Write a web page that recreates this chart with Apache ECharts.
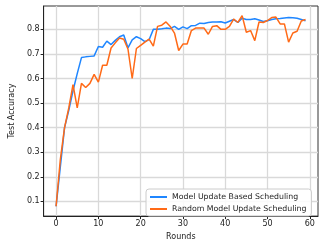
<!DOCTYPE html>
<html><head><meta charset="utf-8">
<script src="https://cdn.jsdelivr.net/npm/echarts@6/dist/echarts.min.js"></script>
<style>html,body{margin:0;padding:0;background:#fff}#c{width:327px;height:246px}</style>
</head><body><div id="c"></div>
<script>
const rounds = Array.from({length: 60}, (_, i) => i);
const modelUpdateBased = [0.08,0.24,0.40,0.47,0.55,0.62,0.685,0.688,0.69,0.692,
  0.73,0.727,0.752,0.738,0.755,0.77,0.777,0.725,0.757,0.770,
  0.762,0.750,0.758,0.800,0.800,0.802,0.805,0.803,0.812,0.800,
  0.810,0.803,0.815,0.816,0.825,0.824,0.828,0.830,0.830,0.831,
  0.826,0.833,0.840,0.828,0.845,0.840,0.840,0.843,0.838,0.832,
  0.835,0.840,0.843,0.844,0.846,0.848,0.847,0.845,0.840,0.835];
const randomModelUpdate = [0.08,0.27,0.40,0.48,0.575,0.48,0.58,0.563,0.58,0.617,
  0.585,0.654,0.654,0.724,0.745,0.765,0.76,0.72,0.60,0.722,
  0.735,0.748,0.760,0.732,0.812,0.817,0.830,0.812,0.785,0.714,
  0.740,0.740,0.795,0.805,0.805,0.805,0.780,0.812,0.815,0.800,
  0.800,0.812,0.842,0.828,0.856,0.788,0.795,0.754,0.830,0.828,
  0.836,0.848,0.850,0.822,0.822,0.748,0.785,0.792,0.834,0.840];
const xTicks = [0,10,20,30,40,50,60];
const yTicks = [0.1,0.2,0.3,0.4,0.5,0.6,0.7,0.8];
const seriesNames = ['Model Update Based Scheduling','Random Model Update Scheduling'];

const font = 'DejaVu Sans';
const chart = echarts.init(document.getElementById('c'));
chart.setOption({
  animation: false,
  grid: {left: 32, right: 9, top: 6, bottom: 27, show: true, borderColor: '#333', borderWidth: 1},
  legend: {
    orient: 'vertical', left: 146, top: 189, padding: [4, 5, 3, 4], itemGap: 4,
    itemWidth: 17, itemHeight: 2, icon: 'rect',
    borderColor: '#ccc', borderWidth: 1, borderRadius: 3, backgroundColor: 'rgba(255,255,255,0.85)',
    textStyle: {fontFamily: font, fontSize: 7.8, color: '#222'},
    data: seriesNames
  },
  xAxis: {
    type: 'value', min: -2.95, max: 61.95,
    name: 'Rounds', nameLocation: 'middle', nameGap: 16,
    nameTextStyle: {fontFamily: font, fontSize: 8, color: '#222'},
    axisLine: {show: true, onZero: false, lineStyle: {color: '#222', width: 1}},
    axisTick: {show: true, length: 3, lineStyle: {color: '#222'}, customValues: xTicks},
    axisLabel: {fontFamily: font, fontSize: 8, color: '#222', margin: 4, customValues: xTicks, formatter: v => String(v)},
    splitLine: {show: true, lineStyle: {color: '#d9d9d9', width: 1.3}}
  },
  yAxis: {
    type: 'value', min: 0.04, max: 0.895,
    name: 'Test Accuracy', nameLocation: 'middle', nameGap: 25,
    nameTextStyle: {fontFamily: font, fontSize: 8, color: '#222'},
    axisLine: {show: true, onZero: false, lineStyle: {color: '#222', width: 1}},
    axisTick: {show: true, length: 3, lineStyle: {color: '#222'}, customValues: yTicks},
    axisLabel: {fontFamily: font, fontSize: 8, color: '#222', margin: 4, customValues: yTicks, formatter: v => v.toFixed(1)},
    splitLine: {show: true, lineStyle: {color: '#d9d9d9', width: 1.3}}
  },
  series: [
    {name: seriesNames[0], type: 'line', showSymbol: false, data: rounds.map((r,i)=>[r, modelUpdateBased[i]]),
     lineStyle: {color: '#1f86ff', width: 1.5}, itemStyle: {color: '#1f86ff'}},
    {name: seriesNames[1], type: 'line', showSymbol: false, data: rounds.map((r,i)=>[r, randomModelUpdate[i]]),
     lineStyle: {color: '#ff6a17', width: 1.5}, itemStyle: {color: '#ff6a17'}}
  ]
});
</script></body></html>
